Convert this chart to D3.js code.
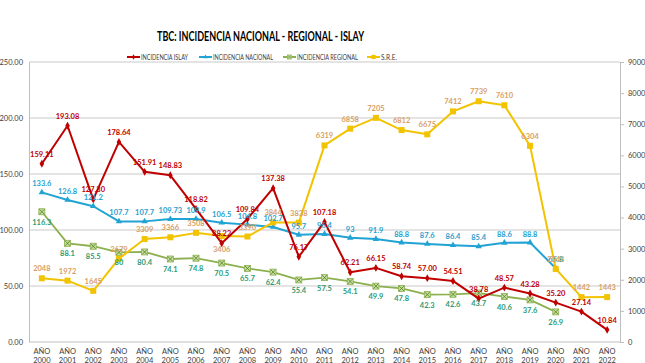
<!DOCTYPE html>
<html><head><meta charset="utf-8">
<script src="https://cdn.jsdelivr.net/npm/d3@7"></script>
<style>body{margin:0;background:#fff}svg{display:block}</style>
</head><body>
<svg id="c" width="645" height="363"></svg>
<script>
const years = d3.range(2000, 2023).map(String);
const islay = [159.11,193.08,127.30,178.64,151.91,148.83,118.82,88.22,109.84,137.38,76.17,107.18,62.21,66.15,58.74,57.00,54.51,38.78,48.57,43.28,35.20,27.14,10.84];
const nacional = [133.6,126.8,121.2,107.7,107.7,109.73,109.9,106.5,104.8,102.7,95.7,96.4,93,91.9,88.8,87.6,86.4,85.4,88.6,88.8,65.8,null,null];
const regional = [116.3,88.1,85.5,80,80.4,74.1,74.8,70.5,65.7,62.4,55.4,57.5,54.1,49.9,47.8,42.3,42.6,43.7,40.6,37.6,26.9,null,null];
const sre = [2048,1972,1645,2679,3309,3366,3508,3406,3390,3844,3838,6319,6858,7205,6812,6675,7412,7739,7610,6304,2348,1442,1443];
const leftTicks = [0,50,100,150,200,250];
const rightTicks = [0,1000,2000,3000,4000,5000,6000,7000,8000,9000];
const seriesNames = ["INCIDENCIA ISLAY","INCIDENCIA NACIONAL","INCIDENCIA REGIONAL","S.R.E."];
const titleText = "TBC: INCIDENCIA NACIONAL - REGIONAL - ISLAY";

const svg = d3.select("#c");
const F = "Lato, 'Open Sans', sans-serif";
const L = 29, R = 620, T = 62, B = 342;
const x = d3.scaleBand().domain(years).range([L, R]);
const cx = d => x(d) + x.bandwidth()/2;
const yL = d3.scaleLinear().domain([0,250]).range([B,T]);
const yR = d3.scaleLinear().domain([0,9000]).range([B,T]);

// title
svg.append("text").attr("x",157).attr("y",41)
  .attr("font-family",F).attr("font-weight","bold").attr("font-size",12.5).attr("fill","#000")
  .attr("textLength",207).attr("lengthAdjust","spacingAndGlyphs").text(titleText);

// gridlines
svg.append("g").selectAll("line").data(leftTicks.filter(d=>d>0)).join("line")
  .attr("x1",L).attr("x2",R).attr("y1",d=>yL(d)).attr("y2",d=>yL(d))
  .attr("stroke","#c9c9c9").attr("stroke-width",1);

// left axis
const ga = svg.append("g").attr("transform",`translate(${L},0)`)
  .call(d3.axisLeft(yL).tickValues(leftTicks).tickFormat(d3.format(".2f")).tickSize(0).tickPadding(6));
ga.select(".domain").attr("stroke","#bfbfbf");
ga.selectAll("text").attr("font-family",F).attr("font-size",7.5).attr("fill","#404040");
// right axis
const gr = svg.append("g").attr("transform",`translate(${R},0)`)
  .call(d3.axisRight(yR).tickValues(rightTicks).tickFormat(d3.format("d")).tickSize(4).tickPadding(4));
gr.select(".domain").attr("stroke","#bfbfbf");
gr.selectAll("line").attr("stroke","#bfbfbf");
gr.selectAll("text").attr("font-family",F).attr("font-size",7.5).attr("fill","#404040");
// bottom axis
svg.append("line").attr("x1",L).attr("x2",R).attr("y1",B).attr("y2",B).attr("stroke","#bfbfbf");
const xl = svg.append("g").selectAll("text").data(years).join("text")
  .attr("x",d=>cx(d)).attr("text-anchor","middle").attr("font-family",F).attr("font-size",7.5).attr("fill","#404040");
xl.append("tspan").attr("x",d=>cx(d)).attr("y",353.5).text("AÑO");
xl.append("tspan").attr("x",d=>cx(d)).attr("y",362.5).text(d=>d);

const series = [
  {name:seriesNames[2], vals:regional, y:yL, color:"#8db04f", lab:"#2e9b74", mark:"x", fmt:d=>String(d), dy:13, w:1.8},
  {name:seriesNames[1], vals:nacional, y:yL, color:"#21a3d3", lab:"#2a9fd0", mark:"tri", fmt:d=>String(d), dy:-6, w:2},
  {name:seriesNames[3], vals:sre, y:yR, color:"#f2c300", lab:"#d9a066", mark:"sq", fmt:d=>String(d), dy:-7, w:2},
  {name:seriesNames[0], vals:islay, y:yL, color:"#c00000", lab:"#c00000", mark:"dot", fmt:d=>d.toFixed(2), dy:-7, w:2},
];

function marker(g, type, color){
  if(type==="sq"){ g.append("rect").attr("x",-3).attr("y",-3).attr("width",6).attr("height",6).attr("fill",color); }
  else if(type==="tri"){ g.append("path").attr("d",d3.symbol(d3.symbolTriangle,18)()).attr("fill",color); }
  else if(type==="x"){ g.append("rect").attr("x",-3).attr("y",-3).attr("width",6).attr("height",6).attr("fill","#c5dca0").attr("stroke",color).attr("stroke-width",0.8);
    g.append("path").attr("d","M-2.5,-2.5L2.5,2.5M-2.5,2.5L2.5,-2.5").attr("stroke","#5f8a2a").attr("stroke-width",0.9); }
  else { g.append("path").attr("d",d3.symbol(d3.symbolDiamond,18)()).attr("fill",color); }
}

const labelLayer = svg.append("g");
series.forEach(s=>{
  const pts = years.map((yr,i)=>({yr, v:s.vals[i]})).filter(p=>p.v!=null);
  const line = d3.line().x(p=>cx(p.yr)).y(p=>s.y(p.v));
  svg.append("path").attr("d",line(pts)).attr("fill","none").attr("stroke",s.color).attr("stroke-width",s.w).attr("stroke-linejoin","round");
  pts.forEach(p=>{
    const g = svg.append("g").attr("transform",`translate(${cx(p.yr)},${s.y(p.v)})`);
    marker(g, s.mark, s.color);
    let dy = s.dy;
    if(s.mark==="sq" && p.yr==="2007") dy = 16;
    labelLayer.append("text").attr("x",cx(p.yr)).attr("y",s.y(p.v)+dy).attr("text-anchor","middle")
      .attr("font-family",F).attr("font-weight","bold").attr("font-size",7.5).attr("fill",s.lab).text(s.fmt(p.v));
  });
});
labelLayer.raise();

// legend
const leg = [
  {n:seriesNames[0], c:"#c00000", m:"dot", x:127, w:47},
  {n:seriesNames[1], c:"#21a3d3", m:"tri", x:199, w:60},
  {n:seriesNames[2], c:"#8db04f", m:"x", x:283, w:61},
  {n:seriesNames[3], c:"#f2c300", m:"sq", x:367, w:16},
];
leg.forEach(l=>{
  const g = svg.append("g").attr("transform",`translate(${l.x},57)`);
  g.append("line").attr("x1",0).attr("x2",13).attr("stroke",l.c).attr("stroke-width",2);
  const mg = g.append("g").attr("transform","translate(6.5,0) scale(0.7)"); marker(mg,l.m,l.c);
  g.append("text").attr("x",14).attr("y",2.5).attr("font-family",F).attr("font-size",7).attr("fill","#404040")
    .attr("textLength",l.w).attr("lengthAdjust","spacingAndGlyphs").text(l.n);
});
</script>
</body></html>
